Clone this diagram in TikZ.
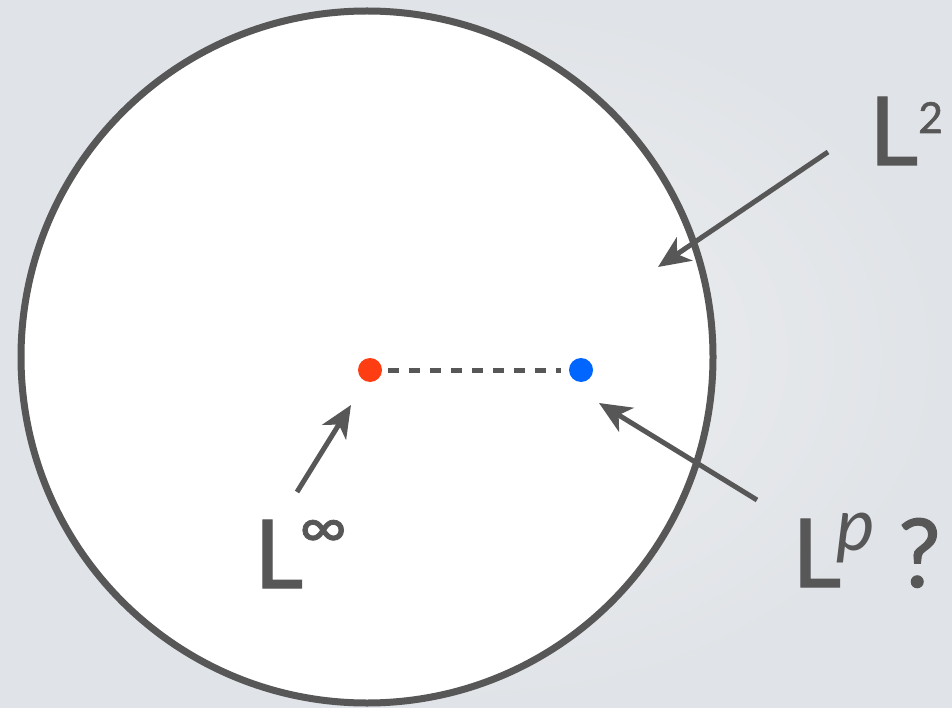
\documentclass[tikz,border=0pt]{standalone}
\usepackage{fontspec}
\setmainfont{Lato}
\newfontfamily\lblfont{Lato}[FakeBold=1.2]
\usetikzlibrary{arrows.meta}
\definecolor{bgc}{HTML}{E0E3E7}
\definecolor{bgl}{HTML}{EDEFF1}
\definecolor{inkc}{HTML}{575757}
\definecolor{redc}{HTML}{FF3D12}
\definecolor{bluec}{HTML}{0066FF}
\newcommand{\bigL}{\lblfont\fontsize{95}{95}\selectfont}
\newcommand{\supr}[3]{\raisebox{#1}{\resizebox*{!}{#2}{\raisebox{\depth}{#3}}}}

\begin{document}
\begin{tikzpicture}[x=1pt, y=-1pt,
  dot/.style={circle, inner sep=0pt, minimum size=24pt},
  lbl/.style={anchor=base west, inner sep=0pt, text=inkc, font=\bigL},
  arr/.style={-{Stealth[length=32pt, width=28pt, inset=9pt]}, line width=5pt, draw=inkc}
]
  % background and the unit ball
  \useasboundingbox (0,0) rectangle (952,708);
  \shade[inner color=bgl, outer color=bgc] (0,0) rectangle (952,708);
  \draw[line width=7pt, draw=inkc, fill=white] (367,357) circle[radius=346pt];

  % the two points
  \node[dot, fill=redc] (linfpt) at (370,370) {};
  \node[dot, fill=bluec] (lppt) at (581,370) {};
  \draw[inkc, line width=5pt, dash pattern=on 11pt off 10pt]
    ([xshift=6pt]linfpt.east) -- ([xshift=-8pt]lppt.west);

  % labels
  \node[lbl] (l2) at (869,165) {\makebox[49pt][l]{L}\supr{32pt}{31pt}{2}};
  \node[lbl] (linf) at (254,588)
    {\makebox[45pt][l]{L}\raisebox{40pt}{\resizebox*{48pt}{28pt}{\raisebox{\depth}{∞}}}};
  \node[lbl] (lp) at (792,587)
    {\makebox[44pt][l]{L}\makebox[62pt][l]{\supr{24pt}{50pt}{\rmfamily\itshape p}}?};

  % arrows
  \coordinate (l2tail) at (828,152);
  \coordinate (l2tip) at (658,267);
  \coordinate (linftail) at (297,492);
  \coordinate (linftip) at (351,405);
  \coordinate (lptail) at (757,500);
  \coordinate (lptip) at (599,403);
  \draw[arr] (l2tail) -- (l2tip);
  \draw[arr] (linftail) -- (linftip);
  \draw[arr] (lptail) -- (lptip);
\end{tikzpicture}
\end{document}
